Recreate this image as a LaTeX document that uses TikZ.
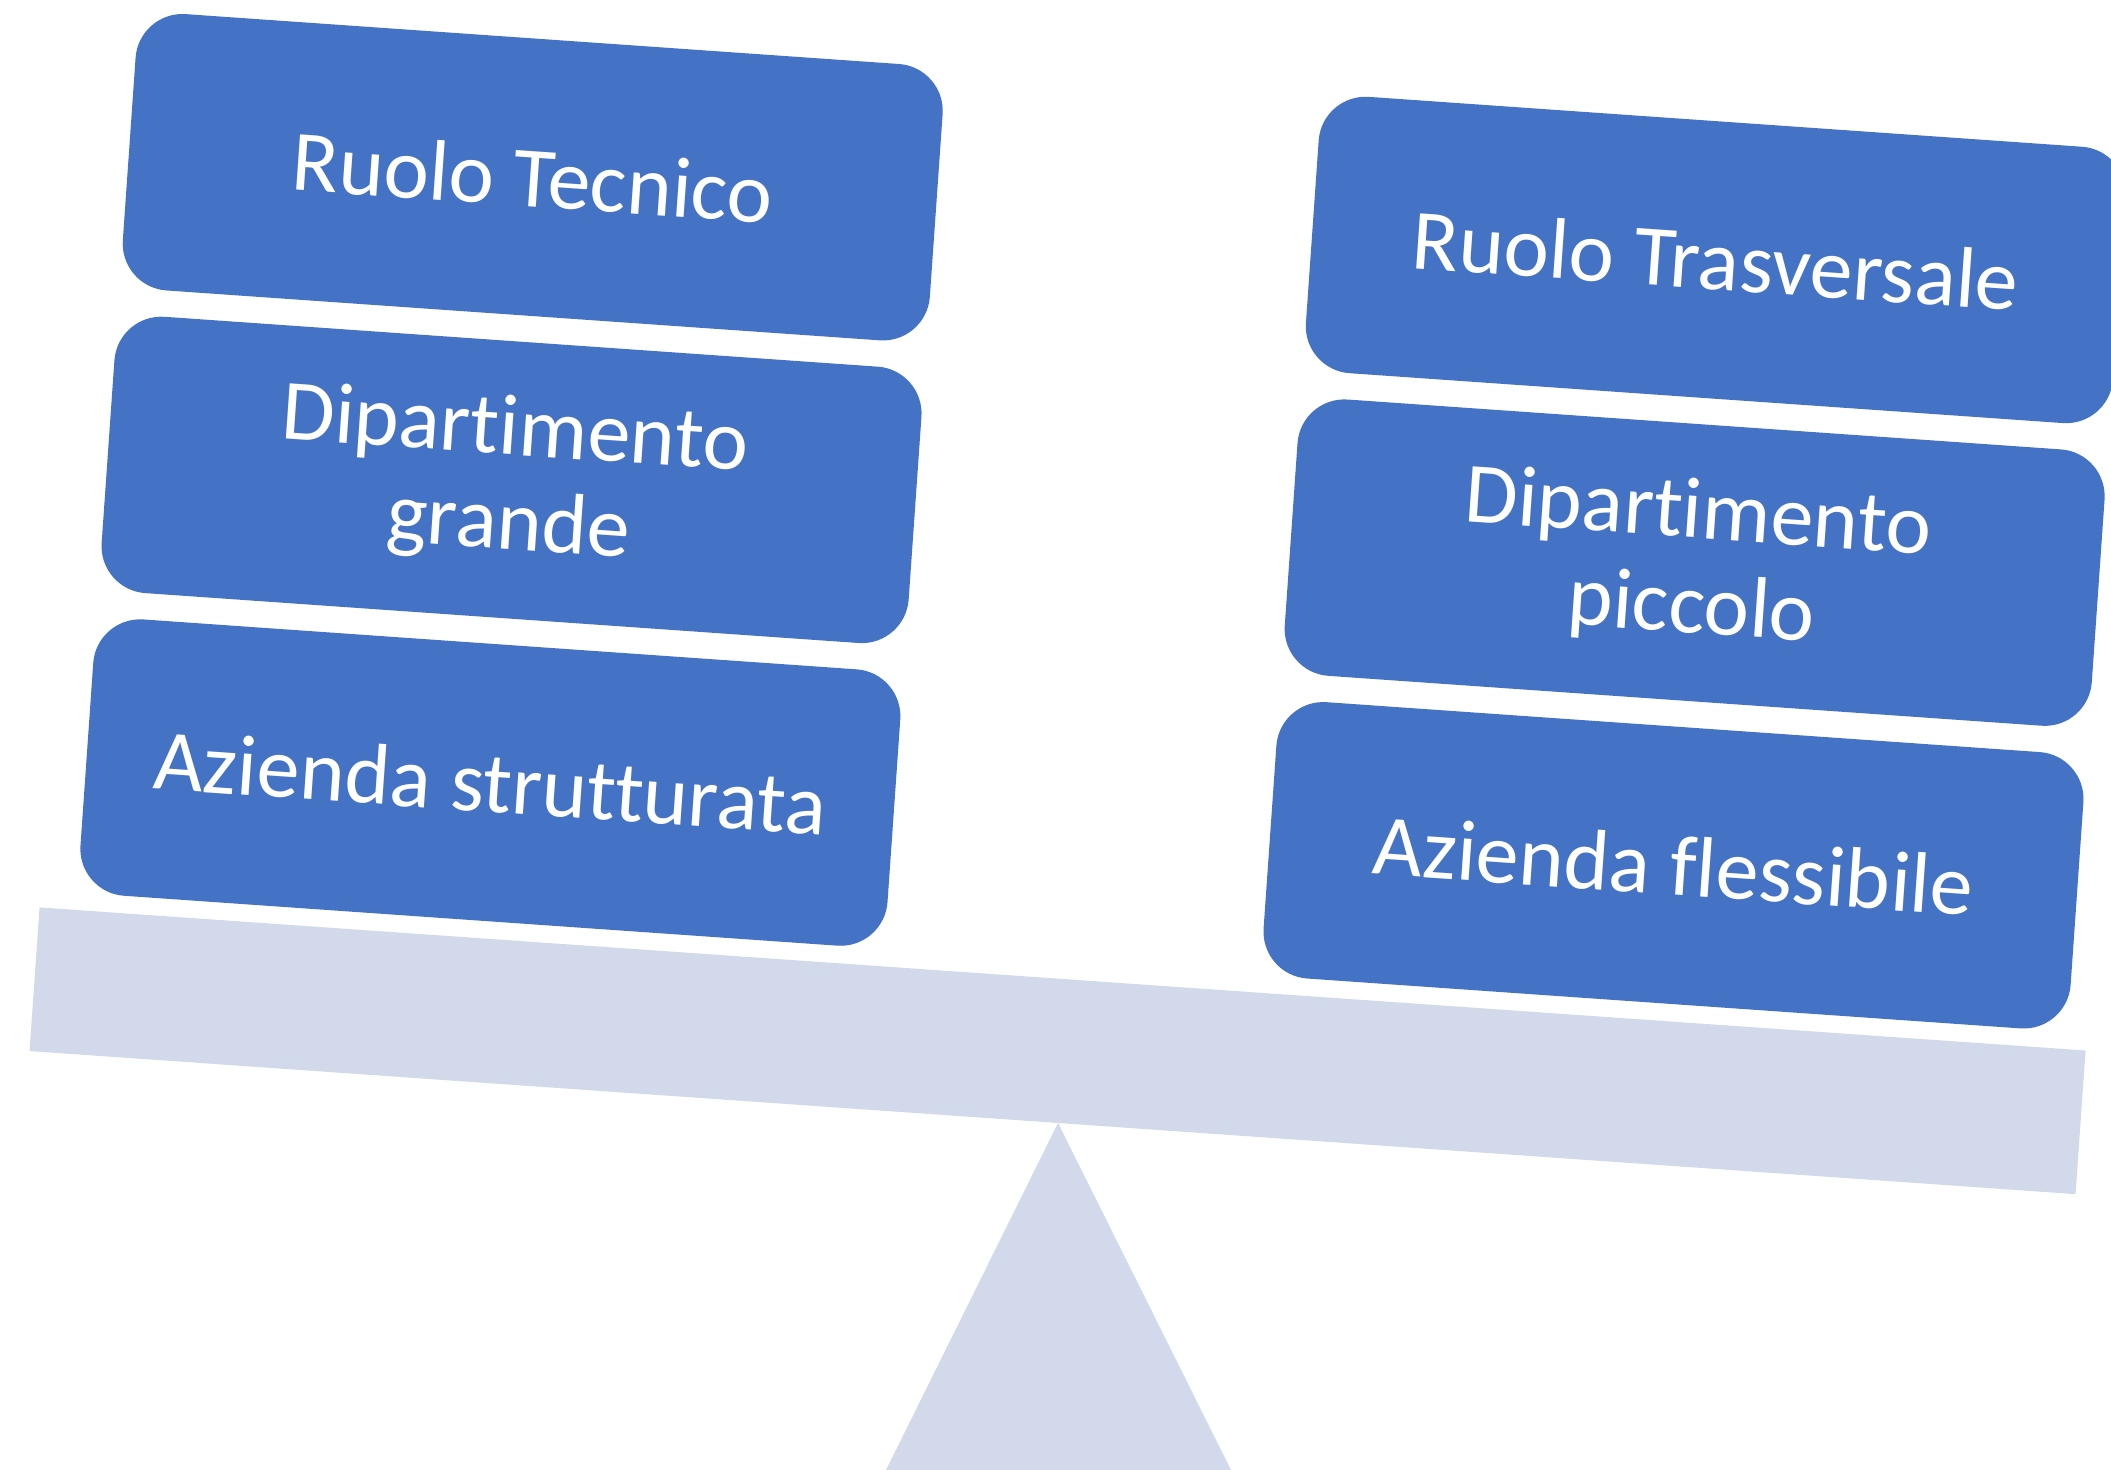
\documentclass[tikz,border=0pt]{standalone}
\usepackage{fontspec}
\setmainfont{Carlito}[Ligatures=NoCommon]
\usetikzlibrary{positioning}
\definecolor{boxblue}{HTML}{4472C4}
\definecolor{beamgrey}{HTML}{D2D9EB}

\begin{document}
\begin{tikzpicture}[box/.style={fill=boxblue, text=white, rounded corners=0.47cm, minimum width=8.09cm, minimum height=2.77cm, align=center, font=\fontsize{24.5}{27}\selectfont, transform shape}, node distance=0.25cm]
    \clip (0,0) rectangle (21.11,14.70);
    \coordinate (pivot) at (10.58,3.47);
    \fill[beamgrey] (8.86,0) -- (pivot) -- (12.31,0) -- cycle;

    \begin{scope}[shift={(pivot)}, rotate=-4]
    \fill[beamgrey] (-10.31,0) rectangle (10.20,1.44);
    \node [box] (l3) at (-5.90,3.00) {Azienda strutturata};
    \node [box, above = of l3] (l2) {Dipartimento\\grande};
    \node [box, above = of l2] (l1) {Ruolo Tecnico};
    \node [box] (r3) at (5.96,3.00) {Azienda flessibile};
    \node [box, above = of r3] (r2) {Dipartimento\\piccolo};
    \node [box, above = of r2] (r1) {Ruolo Trasversale};
    \end{scope}
\end{tikzpicture}
\end{document}
